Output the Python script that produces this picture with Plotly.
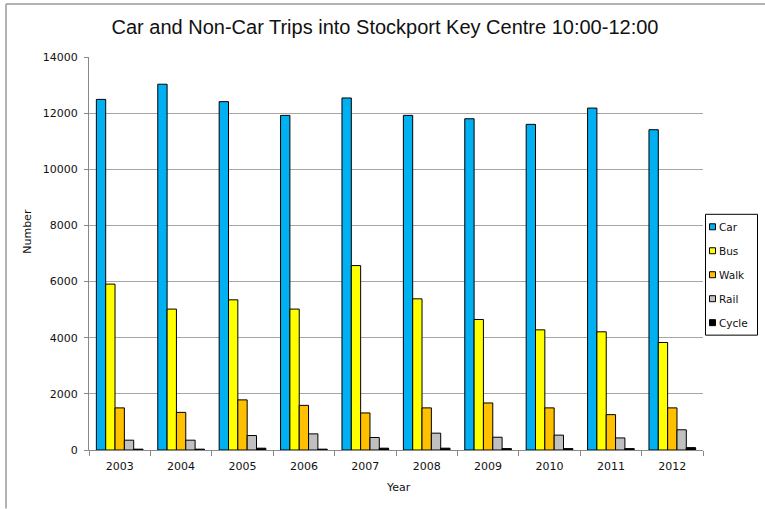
import plotly.graph_objects as go

years = ["2003", "2004", "2005", "2006", "2007", "2008", "2009", "2010", "2011", "2012"]
series_names = ["Car", "Bus", "Walk", "Rail", "Cycle"]
car = [12490, 13030, 12410, 11920, 12540, 11920, 11800, 11600, 12180, 11410]
bus = [5910, 5020, 5350, 5020, 6570, 5385, 4650, 4280, 4210, 3830]
walk = [1500, 1340, 1785, 1590, 1320, 1500, 1675, 1500, 1260, 1500]
rail = [350, 350, 515, 575, 445, 600, 455, 530, 430, 720]
cycle = [30, 30, 65, 30, 65, 65, 50, 50, 50, 85]
colors = ["#00B0F0", "#FFFF00", "#FFC000", "#C0C0C0", "#000000"]
y_ticks = [0, 2000, 4000, 6000, 8000, 10000, 12000, 14000]
y_tick_labels = ["0", "2000", "4000", "6000", "8000", "10000", "12000", "14000"]

W, H = 765, 509
L, R, T, B = 89, 62, 57, 58.5
PW, PH = W - L - R, H - T - B


def px(x):
    return (x - L) / PW


def py(y):
    return (H - B - y) / PH


TICKFONT = dict(family="DejaVu Sans", size=11, color="#111111")

fig = go.Figure()
for name, vals, col in zip(series_names, [car, bus, walk, rail, cycle], colors):
    fig.add_trace(go.Bar(
        x=years, y=vals, name=name, showlegend=False,
        marker=dict(color=col, line=dict(color="#000000", width=1)),
    ))

shapes = [
    # outer chart border (left and top)
    dict(type="line", xref="paper", yref="paper", x0=px(6), x1=px(6), y0=py(4), y1=py(509), line=dict(color="#9a9a9a", width=1.5)),
    dict(type="line", xref="paper", yref="paper", x0=px(6), x1=px(765), y0=py(4), y1=py(4), line=dict(color="#9a9a9a", width=1.5)),
    # legend box
    dict(type="rect", xref="paper", yref="paper", x0=px(705.5), x1=px(757.5), y0=py(214.5), y1=py(335.5), line=dict(color="#000000", width=1), fillcolor="white"),
]
annotations = [
    dict(text="Number", xref="paper", yref="paper", x=px(28), y=py(232), xanchor="center", yanchor="middle",
         showarrow=False, textangle=-90, font=TICKFONT),
    dict(text="Year", xref="paper", yref="paper", x=px(398), y=py(488), xanchor="center", yanchor="middle",
         showarrow=False, font=TICKFONT),
]
row_y = [227, 251, 275, 299, 323]
for name, col, ry in zip(series_names, colors, row_y):
    shapes.append(dict(type="rect", xref="paper", yref="paper", x0=px(709.5), x1=px(715.5), y0=py(ry - 3), y1=py(ry + 3),
                       fillcolor=col, line=dict(color="#000000", width=1)))
    annotations.append(dict(text=name, xref="paper", yref="paper", x=px(717), y=py(ry), xanchor="left", yanchor="middle",
                            showarrow=False, font=dict(family="DejaVu Sans", size=10.5, color="#111111")))

fig.update_layout(
    width=W, height=H,
    margin=dict(l=L, r=R, t=T, b=B, autoexpand=False),
    paper_bgcolor="white", plot_bgcolor="white",
    barmode="group", bargap=0.24, bargroupgap=0,
    title=dict(text="Car and Non-Car Trips into Stockport Key Centre 10:00-12:00",
               x=px(398), xanchor="center", y=1 - 27 / H, yanchor="middle",
               font=dict(family="Liberation Sans", size=20, color="#111111")),
    xaxis=dict(type="category", tickson="boundaries", ticks="outside", ticklen=5, tickcolor="#888888",
               showline=True, linecolor="#888888", linewidth=1, tickfont=TICKFONT, showgrid=False,
               ticklabelstandoff=6),
    yaxis=dict(range=[0, 14000], tickvals=y_ticks, ticktext=y_tick_labels, ticks="outside", ticklen=4,
               tickcolor="#888888", showline=True, linecolor="#888888", linewidth=1,
               gridcolor="#a6a6a6", gridwidth=1, tickfont=TICKFONT, zeroline=False, ticklabelstandoff=4),
    shapes=shapes, annotations=annotations,
)

fig.write_html("out.html")
